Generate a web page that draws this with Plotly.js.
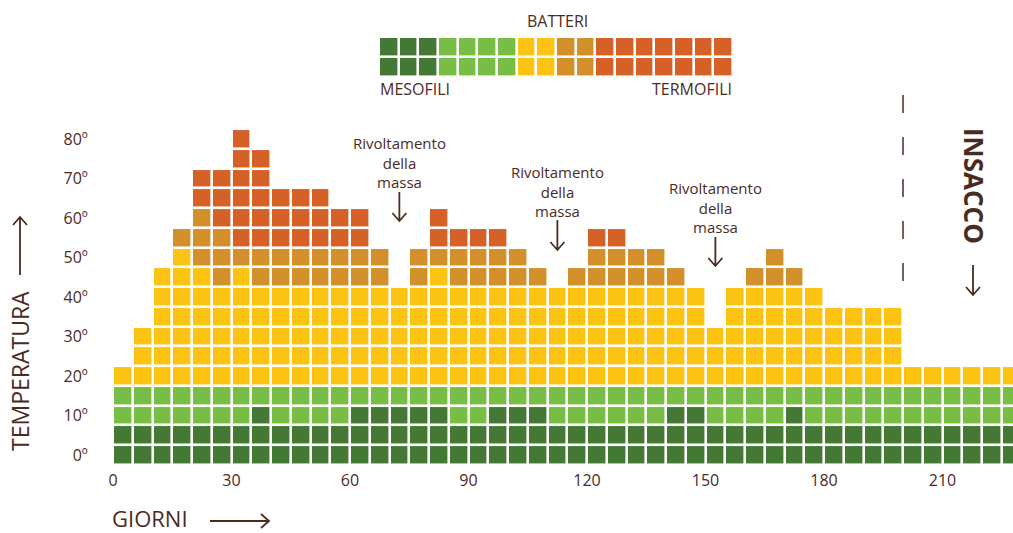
<!DOCTYPE html>
<html>
<head>
<meta charset="utf-8">
<script src="https://cdn.plot.ly/plotly-3.0.1.min.js"></script>
<style>
html,body{margin:0;padding:0;background:#ffffff;}
#chart{width:1013px;height:533px;}
</style>
</head>
<body>
<div id="chart"></div>
<script>
// ---------- DATA ----------
// first day of each 5-day column
const columnDays = [0,5,10,15,20,25,30,35,40,45,50,55,60,65,70,75,80,85,90,95,
  100,105,110,115,120,125,130,135,140,145,150,155,160,165,170,175,180,185,190,195,
  200,205,210,215,220,225];
// number of 5-degree cells of each bacteria colour, stacked bottom to top
const darkGreen  = [2,2,2,2,2,2,2,3,2,2,2,2,3,3,3,3,3,2,2,3,3,3,2,2,2,2,2,2,3,3,2,2,2,2,3,2,2,2,2,2,2,2,2,2,2,2];
const lightGreen = [2,2,2,2,2,2,2,1,2,2,2,2,1,1,1,1,1,2,2,1,1,1,2,2,2,2,2,2,1,1,2,2,2,2,1,2,2,2,2,2,2,2,2,2,2,2];
const yellow     = [1,3,6,7,6,5,6,5,5,5,5,5,5,5,5,5,6,5,5,5,5,5,5,5,5,5,5,5,5,5,3,5,5,5,5,5,4,4,4,4,1,1,1,1,1,1];
const ochre      = [0,0,0,1,3,3,1,2,2,2,2,2,2,2,0,2,1,2,2,2,2,1,0,1,2,2,2,2,1,0,0,0,1,2,1,0,0,0,0,0,0,0,0,0,0,0];
const orange     = [0,0,0,0,2,3,6,5,3,3,3,2,2,0,0,0,2,1,1,1,0,0,0,0,1,1,0,0,0,0,0,0,0,0,0,0,0,0,0,0,0,0,0,0,0,0];

const tempTicks  = [0,10,20,30,40,50,60,70,80];
const tempLabels = ['0º','10º','20º','30º','40º','50º','60º','70º','80º'];
const dayTicks   = [0,30,60,90,120,150,180,210];
const dayLabels  = ['0','30','60','90','120','150','180','210'];

// legend strip: cells per colour (two rows)
const legendCounts = [3,4,2,2,7];
// days of the "Rivoltamento della massa" events and of bagging
const turnDays   = [70,110,150];
const insaccoDay = 200;

// ---------- STYLE ----------
const W = 1013, H = 533;
const COLORS = ['#437935','#78bd44','#fcc313','#d38f2a','#d56127'];
const TXT = '#4a2b1f';
const FONT = "'Open Sans', 'DejaVu Sans', sans-serif";
const CELL = 5;            // 5 days x 5 degrees per cell
const PX = 3.95;           // pixels per unit
const plotLeft = 113, gridBottom = 464.8;

// ---------- BUILD GRID ----------
const series = [darkGreen, lightGreen, yellow, ochre, orange];
let maxRows = 0;
columnDays.forEach((d,i)=>{
  let t=0; series.forEach(s=>t+=s[i]); maxRows=Math.max(maxRows,t);
});
const rowTemps = [];
for (let j=0;j<maxRows;j++) rowTemps.push(j*CELL);
const z = rowTemps.map(()=>columnDays.map(()=>null));
columnDays.forEach((d,i)=>{
  let r=0;
  series.forEach((s,k)=>{ for(let n=0;n<s[i];n++){ z[r][i]=k; r++; } });
});
const xCenters = columnDays.map(d=>d+CELL/2);

const cs = [];
COLORS.forEach((c,k)=>{ cs.push([k/COLORS.length,c]); cs.push([(k+1)/COLORS.length,c]); });

// legend grid
const legRow = [];
legendCounts.forEach((n,k)=>{ for(let i=0;i<n;i++) legRow.push(k); });
const legZ = [legRow.slice(), legRow.slice()];

const traces = [
  {type:'heatmap', x:xCenters, y:rowTemps, z:z, colorscale:cs, zmin:-0.5, zmax:4.5,
   showscale:false, xgap:2.6, ygap:2.6, hoverinfo:'skip'},
  {type:'heatmap', z:legZ, xaxis:'x2', yaxis:'y2', colorscale:cs, zmin:-0.5, zmax:4.5,
   showscale:false, xgap:2.6, ygap:2.6, hoverinfo:'skip'}
];

// ---------- helpers (pixel -> paper) ----------
const px = x=>x/W, py = y=>1-y/H;
function arrowDown(x,y1,y2){
  return {type:'path', xref:'paper', yref:'paper',
    path:`M ${px(x)},${py(y1)} L ${px(x)},${py(y2)} M ${px(x-7)},${py(y2-8)} L ${px(x)},${py(y2)} L ${px(x+7)},${py(y2-8)}`,
    line:{color:TXT,width:1.8}};
}
function arrowUp(x,y1,y2){
  return {type:'path', xref:'paper', yref:'paper',
    path:`M ${px(x)},${py(y1)} L ${px(x)},${py(y2)} M ${px(x-7)},${py(y2+8)} L ${px(x)},${py(y2)} L ${px(x+7)},${py(y2+8)}`,
    line:{color:TXT,width:1.8}};
}
function arrowRight(x1,x2,y){
  return {type:'path', xref:'paper', yref:'paper',
    path:`M ${px(x1)},${py(y)} L ${px(x2)},${py(y)} M ${px(x2-8)},${py(y-7)} L ${px(x2)},${py(y)} L ${px(x2-8)},${py(y+7)}`,
    line:{color:TXT,width:1.8}};
}
const dayToPx = d => plotLeft + d*PX;

const annTop = [163,191,207];
const arrowY = [[192,221],[220,250],[237,266]];

function txt(text,x,y,size,xanchor,extra){
  return Object.assign({text:text, xref:'paper', yref:'paper', x:px(x), y:py(y), showarrow:false,
    xanchor:xanchor||'center', yanchor:'middle', font:{family:FONT,size:size,color:TXT}}, extra||{});
}

const annotations = [
  txt('BATTERI',557,21,16,'center'),
  txt('MESOFILI',378,89,16,'left'),
  txt('TERMOFILI',734,89,16,'right'),
  txt('TEMPERATURA',20,371,23,'center',{textangle:-90}),
  txt('GIORNI',110,518,22,'left'),
  txt('<b>INSACCO</b>',974,186,26,'center',{textangle:90})
];
const shapes = [
  arrowUp(20,275,217),
  arrowRight(210,269,521),
  arrowDown(973,265,295),
  {type:'line', xref:'x', yref:'paper', x0:insaccoDay, x1:insaccoDay, y0:py(95), y1:py(285),
   line:{color:TXT,width:1.5,dash:'18px,24px'}}
];
turnDays.forEach((d,k)=>{
  const c = d+CELL/2;
  annotations.push({text:'Rivoltamento<br>della<br>massa', xref:'x', yref:'paper', x:c, y:py(annTop[k]),
    xanchor:'center', yanchor:'middle',
    showarrow:false, align:'center', font:{family:FONT,size:15,color:TXT}});
  shapes.push(arrowDown(dayToPx(c), arrowY[k][0], arrowY[k][1]));
});

const layout = {
  width:W, height:H, autosize:false,
  margin:{l:0,r:0,t:0,b:0,pad:0},
  paper_bgcolor:'#ffffff', plot_bgcolor:'rgba(0,0,0,0)',
  showlegend:false,
  xaxis:{domain:[plotLeft/W,1], range:[0,(W-plotLeft)/PX], tickvals:dayTicks, ticktext:dayLabels,
    ticks:'outside', ticklen:1, tickcolor:'rgba(0,0,0,0)', showgrid:false, zeroline:false, showline:false,
    tickfont:{family:FONT,size:16,color:TXT}, fixedrange:true},
  yaxis:{domain:[(H-gridBottom)/H,1], range:[-CELL/2, -CELL/2 + gridBottom/PX], tickvals:tempTicks, ticktext:tempLabels,
    ticks:'outside', ticklen:21, tickcolor:'rgba(0,0,0,0)', showgrid:false, zeroline:false, showline:false,
    tickfont:{family:FONT,size:16,color:TXT}, fixedrange:true},
  xaxis2:{domain:[379/W,733/W], range:[-0.5, legRow.length-0.5], visible:false, anchor:'y2', fixedrange:true},
  yaxis2:{domain:[1-76.5/H,1-37/H], range:[-0.5,1.5], visible:false, anchor:'x2', fixedrange:true},
  annotations:annotations,
  shapes:shapes
};
Plotly.newPlot('chart', traces, layout, {staticPlot:true, displayModeBar:false});
</script>
</body>
</html>
